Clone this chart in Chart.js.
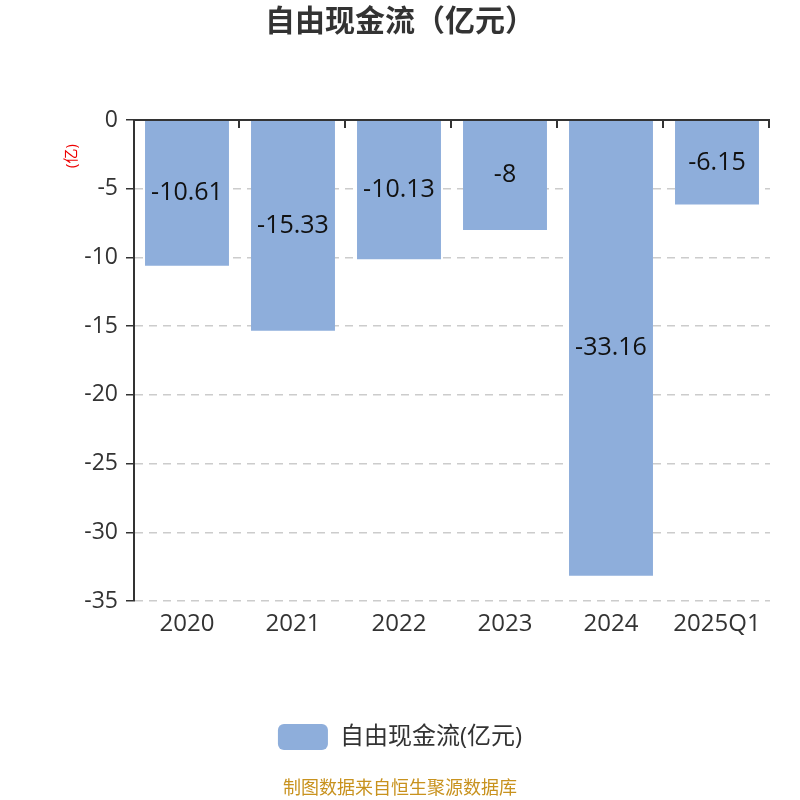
<!DOCTYPE html>
<html>
<head>
<meta charset="utf-8">
<script src="https://cdn.jsdelivr.net/npm/chart.js@4"></script>
<style>
html,body{margin:0;padding:0;background:#fff;}
#wrap{width:800px;height:800px;position:relative;}
</style>
</head>
<body>
<div id="wrap"><canvas id="c" width="800" height="800"></canvas></div>
<script>
const categories = ["2020", "2021", "2022", "2023", "2024", "2025Q1"];
const freeCashFlow = [-10.61, -15.33, -10.13, -8, -33.16, -6.15];
const seriesName = "自由现金流(亿元)";
const titleText = "自由现金流（亿元）";
const unitText = "(亿)";
const footerText = "制图数据来自恒生聚源数据库";
const yTicks = { min: -35, max: 0, step: 5 };

const FONT = '"Open Sans", "Noto Sans CJK SC", sans-serif';
const AXIS_COLOR = '#333';

const decorPlugin = {
  id: 'decor',
  afterDatasetsDraw(chart) {
    const ctx = chart.ctx;
    const x = chart.scales.x, y = chart.scales.y;
    const area = chart.chartArea;
    const y0 = y.getPixelForValue(0);
    ctx.save();
    ctx.strokeStyle = AXIS_COLOR;
    ctx.lineWidth = 2;
    ctx.beginPath();
    ctx.moveTo(area.left, y0);
    ctx.lineTo(area.right, y0);
    const n = categories.length;
    const w = (area.right - area.left) / n;
    for (let i = 1; i <= n; i++) {
      const px = Math.round(x.getPixelForValue(i - 1) + w / 2) - 1;
      ctx.moveTo(px, y0);
      ctx.lineTo(px, y0 + 8);
    }
    ctx.stroke();
    const meta = chart.getDatasetMeta(0);
    ctx.fillStyle = '#111';
    ctx.font = '25px ' + FONT;
    ctx.textAlign = 'center';
    ctx.textBaseline = 'middle';
    meta.data.forEach((bar, i) => {
      const p = bar.getProps(['x', 'y', 'base'], true);
      ctx.fillText(String(freeCashFlow[i]), p.x, (p.y + p.base) / 2);
    });
    ctx.save();
    ctx.translate(area.left - 62, area.top + 36);
    ctx.rotate(-Math.PI / 2);
    ctx.fillStyle = '#e00';
    ctx.font = '15px ' + FONT;
    ctx.fillText(unitText, 0, 0);
    ctx.restore();
    ctx.fillStyle = '#c8921e';
    ctx.font = '18px ' + FONT;
    ctx.fillText(footerText, chart.width / 2, chart.height - 11);
    ctx.restore();
  }
};

new Chart(document.getElementById('c'), {
  type: 'bar',
  data: {
    labels: categories,
    datasets: [{
      label: seriesName,
      data: freeCashFlow,
      backgroundColor: '#8eaedb',
      borderWidth: 0,
      categoryPercentage: 0.8,
      barPercentage: 0.99
    }]
  },
  options: {
    responsive: false,
    animation: false,
    devicePixelRatio: 1,
    layout: { padding: { left: 30, right: 30, top: 0, bottom: 40 } },
    plugins: {
      title: {
        display: true,
        text: titleText,
        color: '#333',
        font: { family: FONT, size: 30, weight: 'bold' },
        padding: { top: 4, bottom: 80 }
      },
      legend: {
        display: true,
        position: 'bottom',
        labels: {
          color: '#333',
          font: { family: FONT, size: 24 },
          boxWidth: 50,
          boxHeight: 26,
          padding: 10,
          useBorderRadius: true,
          borderRadius: 6
        }
      },
      tooltip: { enabled: false }
    },
    scales: {
      x: {
        position: 'bottom',
        border: { display: false },
        grid: { display: false, drawTicks: false },
        ticks: { color: '#333', font: { family: FONT, size: 24 }, padding: 9 },
        afterFit(scale) { scale.height = 113; }
      },
      y: {
        min: yTicks.min,
        max: yTicks.max,
        border: { display: true, color: AXIS_COLOR, width: 2, dash: [8, 6] },
        grid: {
          color: (c) => (c.tick && c.tick.value === 0 ? 'rgba(0,0,0,0)' : '#ccc'),
          lineWidth: 1.5,
          tickColor: AXIS_COLOR,
          tickBorderDash: [],
          tickLength: 8,
          drawTicks: true
        },
        ticks: {
          stepSize: yTicks.step,
          color: '#333',
          font: { family: FONT, size: 23 },
          padding: 8
        },
        afterFit(scale) { scale.width = 104; }
      }
    }
  },
  plugins: [decorPlugin]
});
</script>
</body>
</html>
